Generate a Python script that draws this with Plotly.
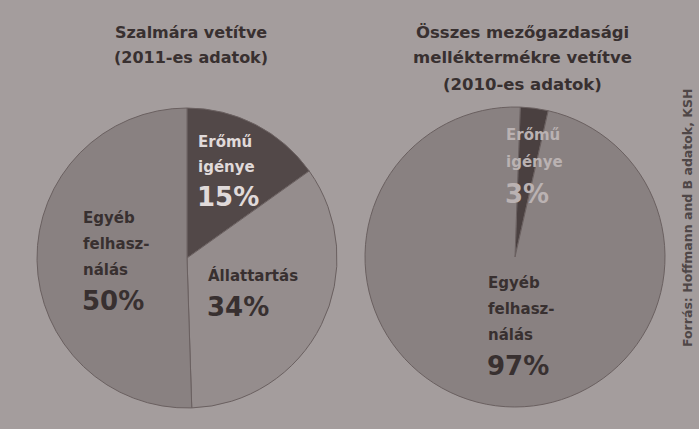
import plotly.graph_objects as go

W, H = 699, 429

# ---- data ----
left_title = ["Szalmára vetítve", "(2011-es adatok)"]
left_labels = ["Erőmű igénye", "Állattartás", "Egyéb felhasználás"]
left_lines = [["Erőmű", "igénye"], ["Állattartás"], ["Egyéb", "felhasz-", "nálás"]]
left_values = [15, 34, 50]
left_colors = ["#524848", "#958d8d", "#898181"]

right_title = ["Összes mezőgazdasági", "melléktermékre vetítve", "(2010-es adatok)"]
right_labels = ["Erőmű igénye", "Egyéb felhasználás"]
right_lines = [["Erőmű", "igénye"], ["Egyéb", "felhasz-", "nálás"]]
right_values = [3, 97]
right_colors = ["#4a4040", "#898181"]

source_text = "Forrás: Hoffmann and B adatok, KSH"

# ---- layout helpers (pixel -> paper) ----
def px(x):
    return x / W

def py(y):
    return 1 - y / H

BG = "#a49d9d"
DARK = "#383030"
FONT = "DejaVu Sans"

fig = go.Figure()

def pie_domain(cx, cy, r):
    return dict(x=[px(cx - r), px(cx + r)], y=[py(cy + r), py(cy - r)])

fig.add_trace(go.Pie(
    labels=left_labels, values=left_values, sort=False, direction="clockwise",
    rotation=0, textinfo="none", hoverinfo="label+percent",
    marker=dict(colors=left_colors, line=dict(color="#6a6060", width=1)),
    domain=pie_domain(187, 258, 150), showlegend=False,
))
fig.add_trace(go.Pie(
    labels=right_labels, values=right_values, sort=False, direction="clockwise",
    rotation=2, textinfo="none", hoverinfo="label+percent",
    marker=dict(colors=right_colors, line=dict(color="#6a6060", width=1)),
    domain=pie_domain(515, 257, 150), showlegend=False,
))

ann = []

def add_text(x, y, text, size, color, anchor="left", angle=0):
    ann.append(dict(x=px(x), y=py(y), xref="paper", yref="paper", text=text,
                    showarrow=False, xanchor=anchor, yanchor="middle", textangle=angle,
                    font=dict(family=FONT, size=size, color=color)))

# titles
for i, t in enumerate(left_title):
    add_text(191, 32 + 25 * i, "<b>%s</b>" % t, 16, DARK, "center")
for i, t in enumerate(right_title):
    add_text(522, 32 + 26 * i, "<b>%s</b>" % t, 16.5, DARK, "center")

def add_label(x, y0, lines, value, color, step=26):
    for i, ln in enumerate(lines):
        add_text(x, y0 + step * i, "<b>%s</b>" % ln, 15, color)
    add_text(x - 1, y0 + step * len(lines) + 5, "<b>%d%%</b>" % value, 26, color)

# left pie labels
add_label(196, 142, left_lines[0], left_values[0], "#e0dada", step=25)
add_label(206, 275, left_lines[1], left_values[1], DARK, step=27)
add_label(81, 218, left_lines[2], left_values[2], DARK, step=26)

# right pie labels
add_label(504, 135, right_lines[0], right_values[0], "#bab2b2", step=27)
add_label(486, 283, right_lines[1], right_values[1], DARK, step=26)

# source (vertical)
add_text(687, 218, "<b>%s</b>" % source_text, 12.5, "#4f4747", "center", angle=-90)

fig.update_layout(
    width=W, height=H, margin=dict(l=0, r=0, t=0, b=0),
    paper_bgcolor=BG, plot_bgcolor=BG, annotations=ann,
)

fig.write_html("out.html", config={"displayModeBar": False})

# remove default page margin so the figure fills the window
with open("out.html", encoding="utf-8") as f:
    html = f.read()
html = html.replace("<body>", '<body style="margin:0;background:%s">' % BG, 1)
with open("out.html", "w", encoding="utf-8") as f:
    f.write(html)
